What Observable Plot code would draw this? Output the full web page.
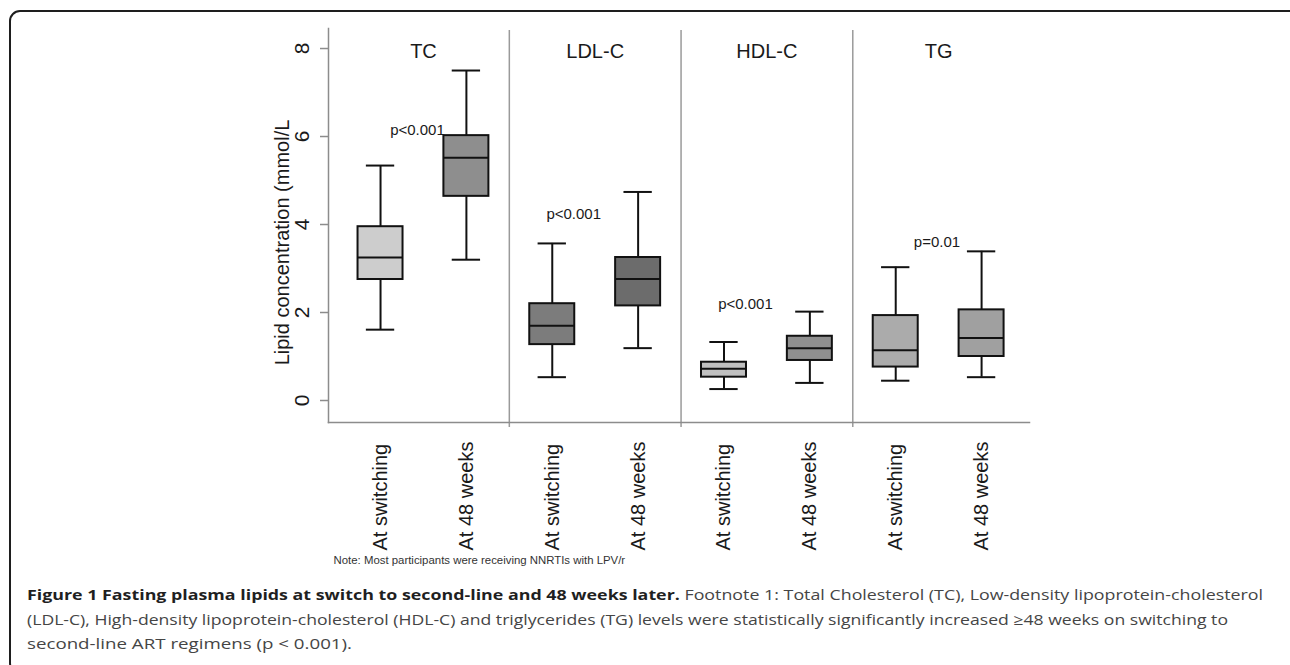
<!DOCTYPE html>
<html>
<head>
<meta charset="utf-8">
<script src="https://cdn.jsdelivr.net/npm/d3@7"></script>
<script src="https://cdn.jsdelivr.net/npm/@observablehq/plot@0.6"></script>
<style>
  html, body { margin: 0; padding: 0; background: #fff; }
  body { width: 1290px; height: 665px; overflow: hidden; position: relative; font-family: "Liberation Sans", Arial, sans-serif; }
  #chart { position: absolute; left: 0; top: 0; }
  #frame { position: absolute; left: 9px; top: 10px; width: 1300px; height: 664px; border: 2px solid #1e1e1e; border-radius: 11px; box-sizing: border-box; z-index: 2; pointer-events: none; }
  .cap { position: absolute; left: 27px; white-space: nowrap; font-family: "Open Sans", "Noto Sans", sans-serif; font-size: 15px; line-height: 20px; color: #454545; transform-origin: 0 50%; }
  .cap b { color: #1f1f1f; font-weight: 700; }
</style>
</head>
<body>
<div id="chart"></div>
<div id="frame"></div>
<div class="cap" id="cap1" style="top:584px"><b>Figure 1 Fasting plasma lipids at switch to second-line and 48 weeks later.</b> Footnote 1: Total Cholesterol (TC), Low-density lipoprotein-cholesterol</div>
<div class="cap" id="cap2" style="top:609px">(LDL-C), High-density lipoprotein-cholesterol (HDL-C) and triglycerides (TG) levels were statistically significantly increased ≥48 weeks on switching to</div>
<div class="cap" id="cap3" style="top:633px">second-line ART regimens (p &lt; 0.001).</div>
<script>
// ---------------- data ----------------
const groups = ["TC", "LDL-C", "HDL-C", "TG"];
const timepoints = ["At switching", "At 48 weeks"];
const lowerWhisker = [1.61, 3.20, 0.53, 1.19, 0.26, 0.40, 0.45, 0.53];
const q1           = [2.75, 4.64, 1.27, 2.15, 0.53, 0.91, 0.76, 1.00];
const median       = [3.25, 5.52, 1.70, 2.76, 0.72, 1.19, 1.14, 1.42];
const q3           = [3.95, 6.02, 2.20, 3.25, 0.87, 1.46, 1.93, 2.06];
const upperWhisker = [5.34, 7.50, 3.57, 4.74, 1.33, 2.02, 3.03, 3.39];
const pValues = ["p<0.001", "p<0.001", "p<0.001", "p=0.01"];
const pLabelX = [0.43, 2.25, 4.25, 6.48];   // box-index units
const pLabelY = [6.14, 4.23, 2.20, 3.60];   // mmol/L
const yTicks = [0, 2, 4, 6, 8];
const yLabel = "Lipid concentration (mmol/L";
const note = "Note: Most participants were receiving NNRTIs with LPV/r";

// ---------------- styles ----------------
const boxFills = ["#cdcdcd", "#8e8e8e", "#7c7c7c", "#6c6c6c", "#c0c0c0", "#8f8f8f", "#ababab", "#a0a0a0"];
const ink = "#111";
const axisGray = "#8c8c8c";
const HW = 0.262;  // half box width (index units)
const CW = 0.165;  // half cap width

const rows = lowerWhisker.map((_, i) => ({
  i,
  group: groups[Math.floor(i / 2)],
  time: timepoints[i % 2],
  lo: lowerWhisker[i], q1: q1[i], med: median[i], q3: q3[i], hi: upperWhisker[i],
  fill: boxFills[i]
}));
const separators = d3.range(1, groups.length).map(g => g * 2 - 0.5);
const pRows = pValues.map((t, k) => ({t, x: pLabelX[k], y: pLabelY[k]}));

const H = 575;
const chart = Plot.plot({
  width: 1290,
  height: H,
  marginLeft: 328,
  marginRight: 261,
  marginTop: 28,
  marginBottom: H - 422,
  x: {type: "linear", domain: [-0.606, 7.558], axis: null},
  y: {domain: [-0.5, 8.455]},
  color: {type: "identity"},
  style: {fontFamily: "'Liberation Sans', Arial, sans-serif", background: "transparent", color: "#1a1a1a", overflow: "visible"},
  marks: [
    Plot.ruleX(separators, {x: d => d, stroke: "#9a9a9a", strokeWidth: 1.5, insetTop: 2, insetBottom: -5}),
    Plot.frame({anchor: "left", stroke: axisGray, strokeWidth: 1.5}),
    Plot.frame({anchor: "bottom", stroke: axisGray, strokeWidth: 1.5}),
    Plot.axisY(yTicks, {tickSize: 8, tickFormat: () => "", stroke: axisGray, strokeWidth: 1.5, label: null}),
    Plot.text(yTicks, {y: d => d, text: d => String(d), frameAnchor: "left", dx: -26, rotate: -90, fontSize: 21, textAnchor: "middle", lineAnchor: "middle"}),
    Plot.text([yLabel], {text: d => d, frameAnchor: "left", dx: -46, dy: 17, rotate: -90, fontSize: 20, textAnchor: "middle"}),
    Plot.text(groups, {x: (d, k) => 2 * k + 0.5, text: d => d, frameAnchor: "top", dy: 15, fontSize: 20}),
    // whiskers
    Plot.ruleX(rows, {x: "i", y1: "lo", y2: "q1", stroke: ink, strokeWidth: 2}),
    Plot.ruleX(rows, {x: "i", y1: "q3", y2: "hi", stroke: ink, strokeWidth: 2}),
    Plot.ruleY(rows, {y: "lo", x1: d => d.i - CW, x2: d => d.i + CW, stroke: ink, strokeWidth: 2}),
    Plot.ruleY(rows, {y: "hi", x1: d => d.i - CW, x2: d => d.i + CW, stroke: ink, strokeWidth: 2}),
    // boxes
    Plot.rect(rows, {x1: d => d.i - HW, x2: d => d.i + HW, y1: "q1", y2: "q3", fill: "fill", stroke: ink, strokeWidth: 2}),
    Plot.ruleY(rows, {y: "med", x1: d => d.i - HW, x2: d => d.i + HW, stroke: ink, strokeWidth: 2}),
    // p-values
    Plot.text(pRows, {x: "x", y: "y", text: "t", fontSize: 15}),
    // x tick labels
    Plot.text(rows, {x: "i", text: "time", frameAnchor: "bottom", dy: 128, rotate: -90, textAnchor: "start", lineAnchor: "middle", fontSize: 20}),
    // note
    Plot.text([note], {text: d => d, frameAnchor: "bottom-left", dx: 5, dy: 141, textAnchor: "start", fontSize: 11.4, fill: "#333"})
  ]
});
document.getElementById("chart").appendChild(chart);

// fit caption lines to their measured widths
const targets = {cap1: 1236, cap2: 1201, cap3: 325};
for (const id in targets) {
  const el = document.getElementById(id);
  const w = el.getBoundingClientRect().width;
  el.style.transform = `scaleX(${targets[id] / w})`;
}
</script>
</body>
</html>
